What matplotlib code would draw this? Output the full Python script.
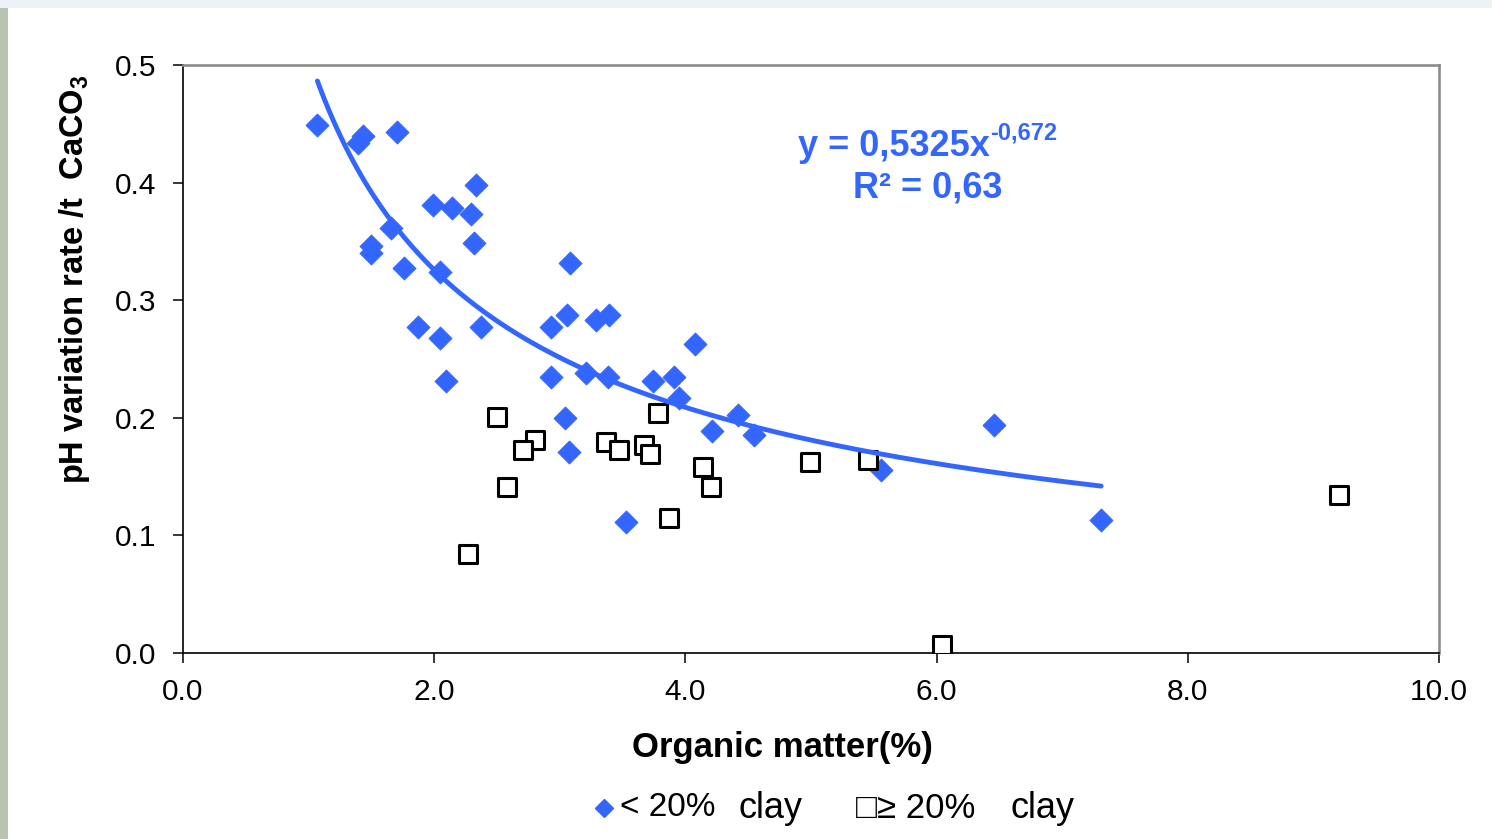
import numpy as np
import matplotlib
matplotlib.use("Agg")
import matplotlib.pyplot as plt
from matplotlib.lines import Line2D
from matplotlib.patches import Rectangle

plt.rcParams['font.family'] = ['Liberation Sans', 'DejaVu Sans']
plt.rcParams['mathtext.fontset'] = 'custom'
plt.rcParams['mathtext.rm'] = 'Liberation Sans'
plt.rcParams['mathtext.bf'] = 'Liberation Sans:bold'

# soils with < 20% clay (blue diamonds)
low_clay_x = [1.07, 1.39, 1.43, 1.70, 2.33, 1.99, 2.14, 2.29, 2.32, 1.66,
              1.50, 1.50, 1.76, 2.05, 3.08, 1.87, 2.05, 2.37, 2.93, 3.06,
              3.29, 3.39, 2.09, 2.93, 3.21, 3.38, 4.08, 3.74, 3.91, 3.95,
              4.42, 3.04, 4.21, 4.55, 3.07, 3.53, 6.46, 5.56, 7.31]
low_clay_y = [0.449, 0.434, 0.440, 0.443, 0.398, 0.381, 0.378, 0.373, 0.349, 0.361,
              0.346, 0.340, 0.327, 0.324, 0.332, 0.277, 0.268, 0.277, 0.277, 0.287,
              0.283, 0.287, 0.231, 0.235, 0.238, 0.235, 0.263, 0.231, 0.235, 0.217,
              0.202, 0.200, 0.189, 0.185, 0.171, 0.111, 0.194, 0.156, 0.113]

# soils with >= 20% clay (open squares)
high_clay_x = [2.50, 2.80, 2.71, 2.58, 2.27, 3.37, 3.47, 3.67, 3.72, 3.78,
               4.14, 4.20, 3.87, 4.99, 5.45, 6.04, 9.20]
high_clay_y = [0.201, 0.181, 0.173, 0.141, 0.084, 0.179, 0.173, 0.177, 0.169, 0.204,
               0.158, 0.141, 0.115, 0.162, 0.164, 0.007, 0.134]

# power trendline as drawn on the chart
trend_a = 0.508
trend_b = -0.641

x_ticks = [0.0, 2.0, 4.0, 6.0, 8.0, 10.0]
y_ticks = [0.0, 0.1, 0.2, 0.3, 0.4, 0.5]

blue = '#3366ff'

fig = plt.figure(figsize=(14.92, 8.39), dpi=100)
fig.patch.set_facecolor('white')

# slide background bits (top band, photo strip on the left)
fig.add_artist(Rectangle((0, 1 - 8 / 839), 1, 8 / 839, transform=fig.transFigure,
                         facecolor='#eef1f6', edgecolor='none', zorder=0))
fig.add_artist(Rectangle((0, 0), 8 / 1492, 1 - 8 / 839, transform=fig.transFigure,
                         facecolor='#b9c4b0', edgecolor='none', zorder=0))

ax = fig.add_axes([183 / 1492, 1 - 653 / 839, 1256 / 1492, 588 / 839])

ax.scatter(low_clay_x, low_clay_y, marker='D', s=140, color=blue,
           edgecolors=blue, linewidths=0.5, zorder=3)
ax.scatter(high_clay_x, high_clay_y, marker='s', s=175, facecolors='white',
           edgecolors='black', linewidths=2.2, zorder=4)

xs = np.linspace(min(low_clay_x), max(low_clay_x), 200)
ax.plot(xs, trend_a * xs ** trend_b, color=blue, lw=3.5, solid_capstyle='round', zorder=5)

ax.set_xlim(0, 10)
ax.set_ylim(0, 0.5)
ax.set_xticks(x_ticks)
ax.set_yticks(y_ticks)
ax.set_xticklabels([f'{v:.1f}' for v in x_ticks])
ax.set_yticklabels([f'{v:.1f}' for v in y_ticks])
ax.tick_params(direction='out', length=7, width=1.1, labelsize=21.5, color='black')
ax.tick_params(axis='y', pad=12)
ax.tick_params(axis='x', pad=11)

for side in ['left', 'bottom']:
    ax.spines[side].set_color('black')
    ax.spines[side].set_linewidth(1.2)
for side in ['top', 'right']:
    ax.spines[side].set_color('#8c8c8c')
    ax.spines[side].set_linewidth(1.9)

ax.set_xlabel('Organic matter(%)', fontsize=25, fontweight='bold')
ax.xaxis.set_label_coords(0.477, -0.160)
ax.xaxis.label.set_verticalalignment('center')

ax.set_ylabel(r'pH variation rate /t  CaCO$_\mathbf{3}$', fontsize=23.5, fontweight='bold')
ax.yaxis.set_label_coords(-0.086, 0.636)
ax.yaxis.label.set_verticalalignment('center')

# trendline equation, exponent placed as a raised smaller text
eq = ax.text(0.566, 0.861, 'y = 0,5325x', transform=ax.transAxes,
             ha='center', va='center', fontsize=26, fontweight='bold', color=blue)
ax.annotate('-0,672', xy=(1.0, 0.55), xycoords=eq, xytext=(0.5, 0), textcoords='offset points',
            ha='left', va='bottom', fontsize=17, fontweight='bold', color=blue)
ax.text(0.593, 0.791, 'R\u00b2 = 0,63', transform=ax.transAxes,
        ha='center', va='center', fontsize=26, fontweight='bold', color=blue)

# legend row under the axis title
leg_y = 1 - 808 / 839
fig.add_artist(Line2D([604 / 1492], [leg_y], transform=fig.transFigure, marker='D',
                      markersize=9, color=blue, linestyle='none'))
fig.text(620 / 1492, leg_y, '< 20%', fontsize=24, va='center', ha='left')
fig.text(738 / 1492, leg_y, 'clay', fontsize=26, va='center', ha='left')
fig.text(856 / 1492, leg_y, '□≥ 20%', fontsize=25, va='center', ha='left')
fig.text(1010 / 1492, leg_y, 'clay', fontsize=26, va='center', ha='left')

fig.savefig('out.png', dpi=100, facecolor=fig.get_facecolor())
